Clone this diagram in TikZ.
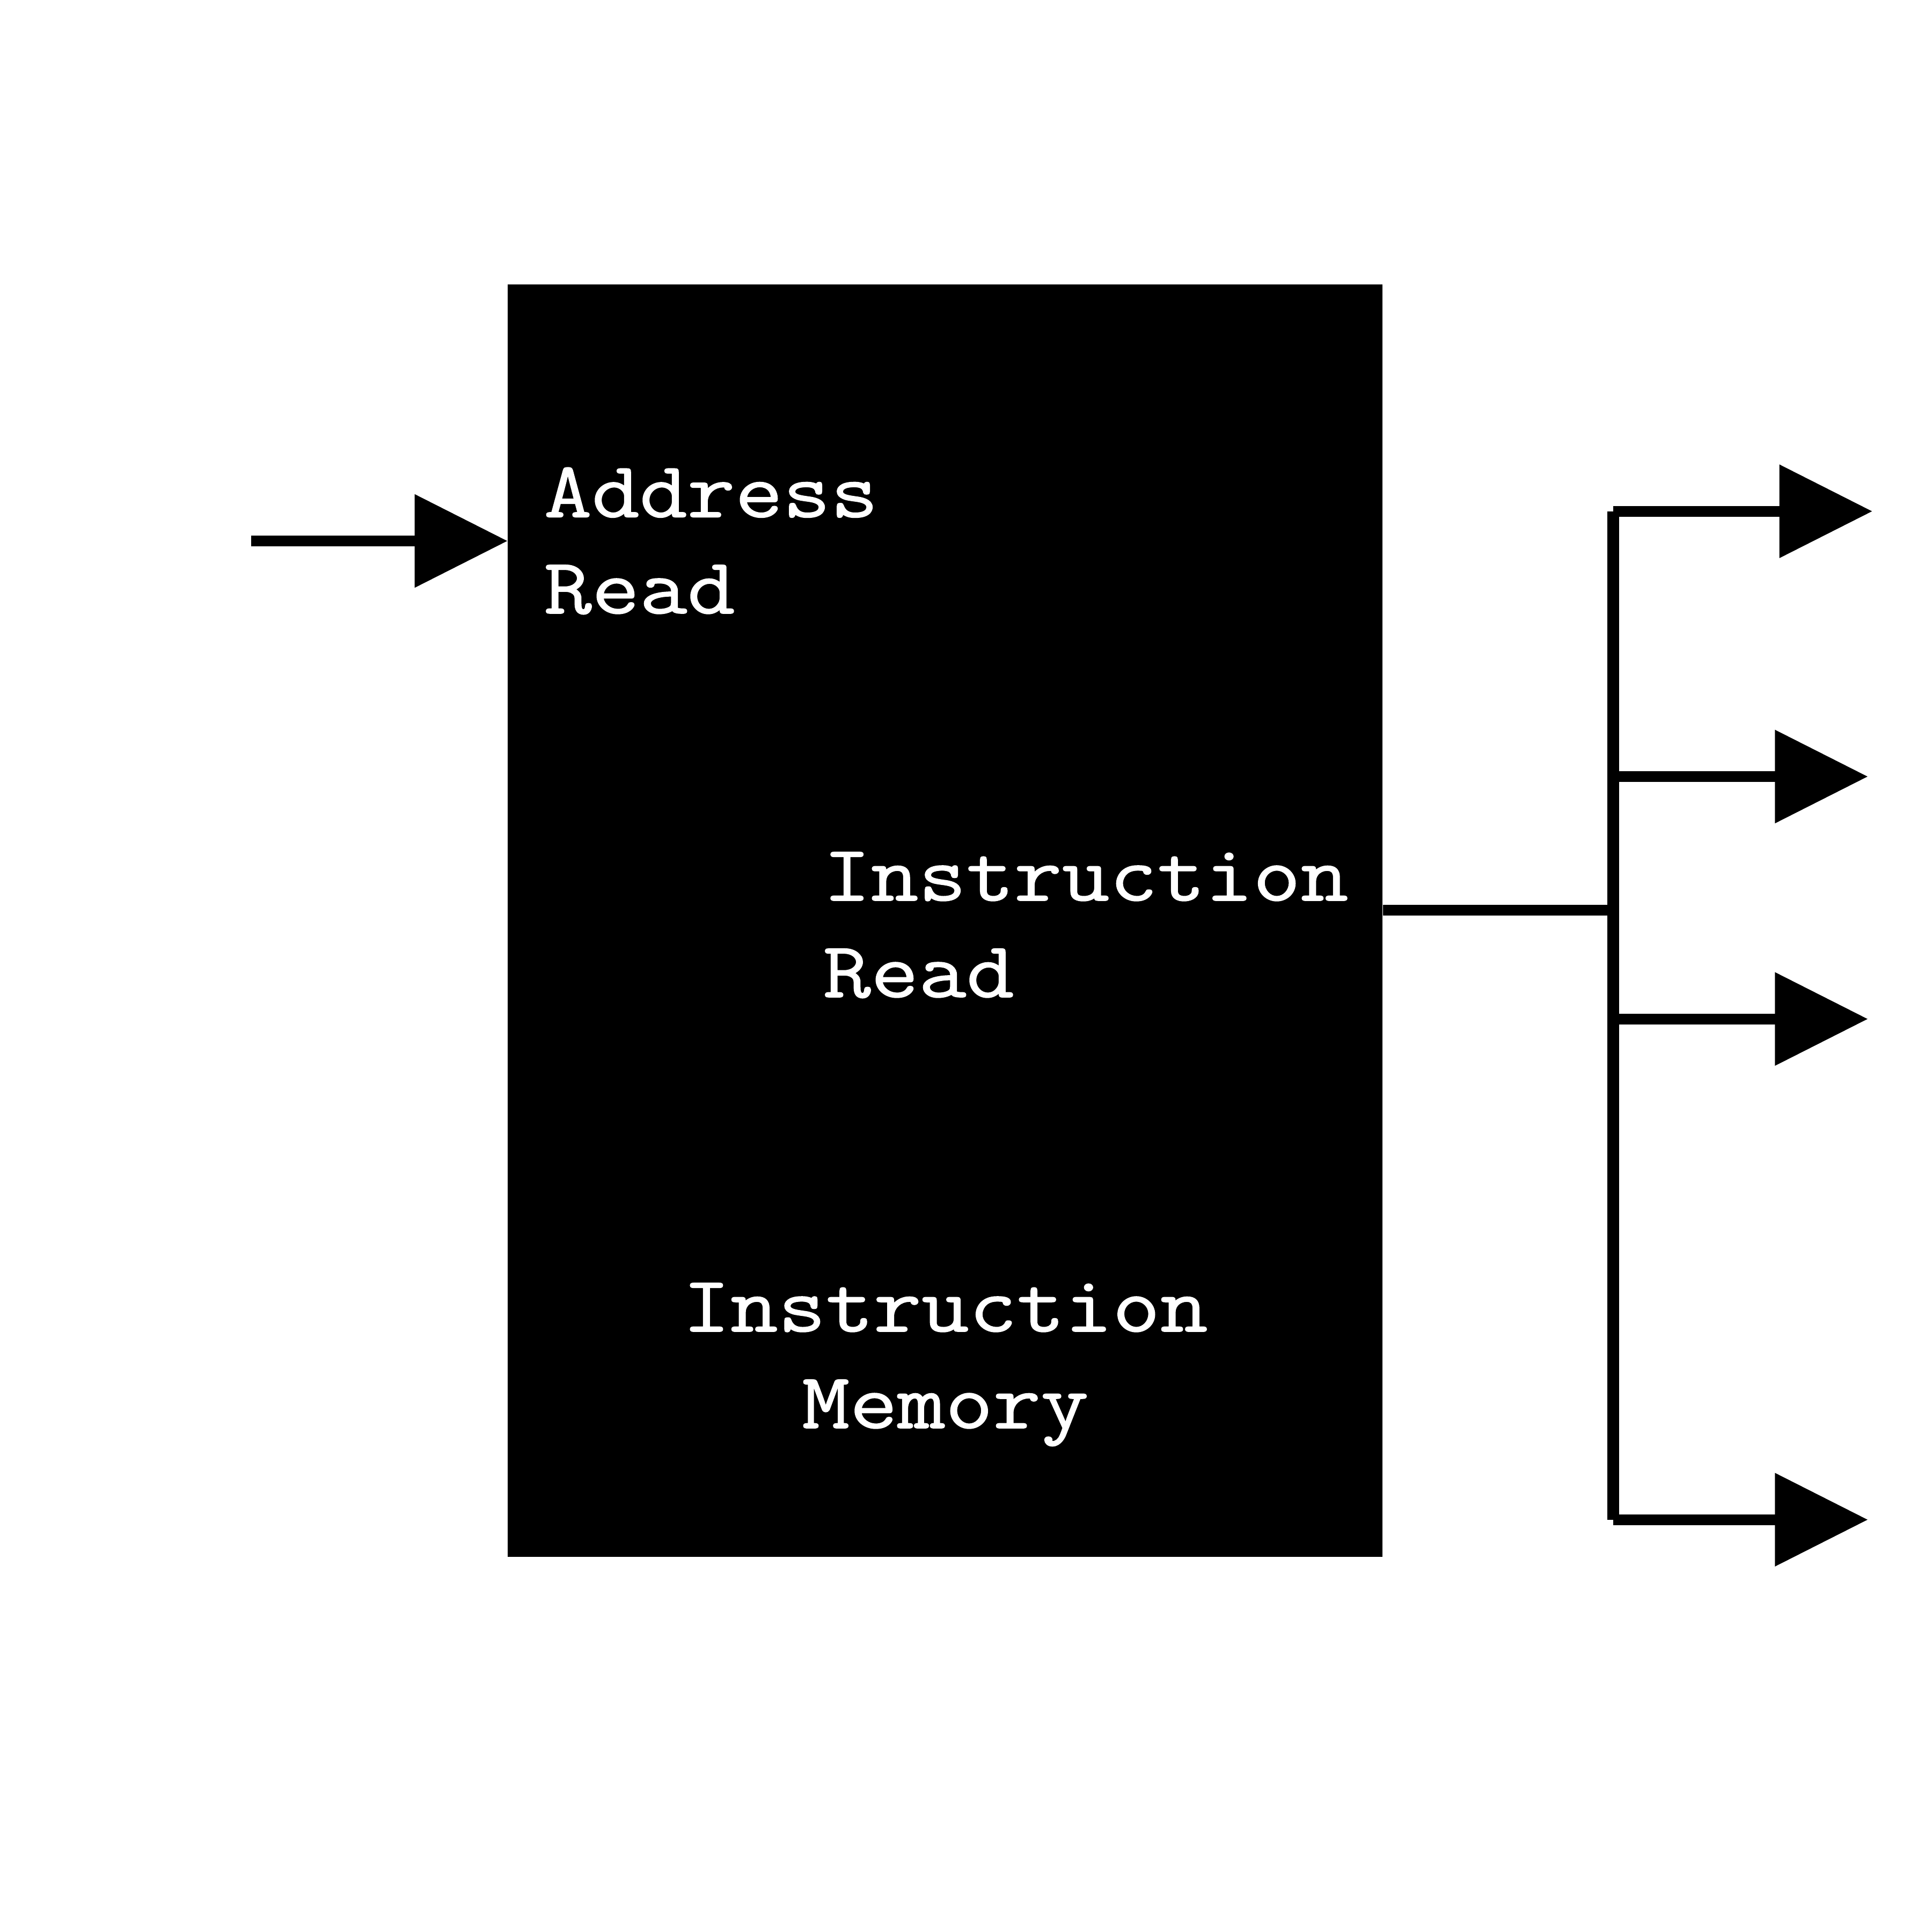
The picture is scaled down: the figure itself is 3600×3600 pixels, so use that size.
\documentclass[tikz,border=0pt]{standalone}
\usepackage{fontspec}
\newfontfamily\courfont{Latin Modern Mono}[FakeStretch=1.17, FakeBold=1.1]
\usetikzlibrary{arrows.meta}
\tikzset{
  wire/.style={line width=0.2cm, draw=black},
  bus/.style={line width=0.22cm, draw=black, line cap=square},
  arr/.style={wire, -{Triangle[length=1.73cm, width=1.69cm]}},
  lbl/.style={text=white, inner sep=0pt, font=\courfont\fontsize{42pt}{51pt}\selectfont},
  block/.style={fill=black, draw=none, inner sep=0pt, minimum width=16.29cm, minimum height=23.692cm}
}
\begin{document}
\begin{tikzpicture}[x=0.01cm, y=-0.01cm]
\useasboundingbox (0,0) rectangle (3600,3600);
\fill[white] (0,0) rectangle (3600,3600);
% memory block
\node[block] (mem) at (1761.4,1715.4) {};
% labels
\node[lbl, anchor=base west] (addrA) at (1013,963.5) {Address};
\node[lbl, anchor=base west] (addrR) at (1013,1143) {Read};
\node[lbl, anchor=base west] (irI) at (1533,1678) {Instruction};
\node[lbl, anchor=base west] (irR) at (1533,1858) {Read};
\node[lbl, anchor=base] (imI) at (1761.4,2481) {Instruction};
\node[lbl, anchor=base] (imM) at (1761.4,2661) {Memory};
% input
\coordinate (in) at (468,1008);
\draw[arr] (in) -- (in -| mem.west);
% output bus
\coordinate (jo) at (3005.5,1696);
\coordinate (jt) at (3005.5,952.7);
\coordinate (j2) at (3005.5,1447);
\coordinate (j3) at (3005.5,1898.7);
\coordinate (jb) at (3005.5,2831.7);
\coordinate (t1) at (3488.8,952.7);
\coordinate (t2) at (3480.4,1447);
\coordinate (t3) at (3480.4,1898.7);
\coordinate (t4) at (3480.4,2831.7);
\draw[wire] (jo -| mem.east) -- (jo);
\draw[bus] (jt) -- (jb);
\draw[arr] (jt) -- (t1);
\draw[arr] (j2) -- (t2);
\draw[arr] (j3) -- (t3);
\draw[arr] (jb) -- (t4);
\end{tikzpicture}
\end{document}
